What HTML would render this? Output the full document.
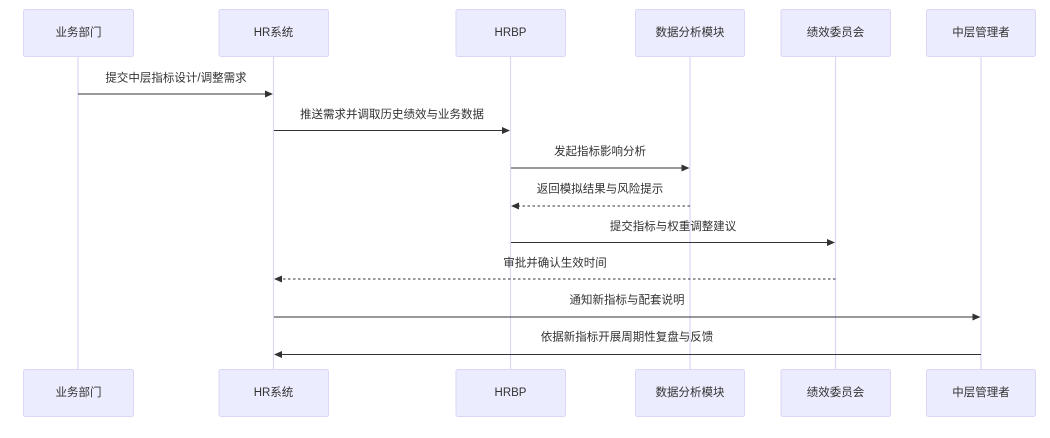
<!DOCTYPE html>
<html>
<head>
<meta charset="utf-8">
<style>
html,body{margin:0;padding:0;background:#fff;}
svg{display:block;}
text{font-family:"Liberation Sans","Noto Sans CJK SC",sans-serif;font-size:11.5px;fill:#333;}
.box{fill:#ECECFF;stroke:#DCD5F6;stroke-width:1;}
.life{stroke:#DDD5F7;stroke-width:1.2;}
.msg{stroke:#333;stroke-width:1.1;fill:none;}
.dash{stroke-dasharray:2.5,2.5;}
</style>
</head>
<body>
<svg width="1050" height="438" viewBox="0 0 1050 438" xmlns="http://www.w3.org/2000/svg">
<defs>
<marker id="ah" markerWidth="8" markerHeight="7" refX="7" refY="3.5" orient="auto" markerUnits="userSpaceOnUse">
<path d="M0,0 L8,3.5 L0,7 z" fill="#333"/>
</marker>
</defs>
<!-- lifelines -->
<line class="life" x1="78" y1="56" x2="78" y2="369"/>
<line class="life" x1="273.5" y1="56" x2="273.5" y2="369"/>
<line class="life" x1="510.5" y1="56" x2="510.5" y2="369"/>
<line class="life" x1="690" y1="56" x2="690" y2="369"/>
<line class="life" x1="835.5" y1="56" x2="835.5" y2="369"/>
<line class="life" x1="981" y1="56" x2="981" y2="369"/>

<!-- top boxes -->
<rect class="box" x="23.5" y="9.5" width="110" height="47" rx="2"/>
<rect class="box" x="219" y="9.5" width="109.5" height="47" rx="2"/>
<rect class="box" x="456" y="9.5" width="109.5" height="47" rx="2"/>
<rect class="box" x="635.5" y="9.5" width="109" height="47" rx="2"/>
<rect class="box" x="781" y="9.5" width="109.5" height="47" rx="2"/>
<rect class="box" x="926.5" y="9.5" width="109" height="47" rx="2"/>
<g text-anchor="middle" dominant-baseline="central">
<text x="78.5" y="33">业务部门</text>
<text x="273.5" y="33">HR系统</text>
<text x="510.5" y="33">HRBP</text>
<text x="690" y="33">数据分析模块</text>
<text x="835.5" y="33">绩效委员会</text>
<text x="981" y="33">中层管理者</text>
</g>

<!-- bottom boxes -->
<rect class="box" x="23.5" y="369.5" width="110" height="47" rx="2"/>
<rect class="box" x="219" y="369.5" width="109.5" height="47" rx="2"/>
<rect class="box" x="456" y="369.5" width="109.5" height="47" rx="2"/>
<rect class="box" x="635.5" y="369.5" width="109" height="47" rx="2"/>
<rect class="box" x="781" y="369.5" width="109.5" height="47" rx="2"/>
<rect class="box" x="926.5" y="369.5" width="109" height="47" rx="2"/>
<g text-anchor="middle" dominant-baseline="central">
<text x="78.5" y="393">业务部门</text>
<text x="273.5" y="393">HR系统</text>
<text x="510.5" y="393">HRBP</text>
<text x="690" y="393">数据分析模块</text>
<text x="835.5" y="393">绩效委员会</text>
<text x="981" y="393">中层管理者</text>
</g>

<!-- messages -->
<line class="msg" x1="78" y1="94" x2="272" y2="94" marker-end="url(#ah)"/>
<line class="msg" x1="274" y1="130.5" x2="509" y2="130.5" marker-end="url(#ah)"/>
<line class="msg" x1="511" y1="168" x2="688.5" y2="168" marker-end="url(#ah)"/>
<line class="msg dash" x1="690" y1="206" x2="512" y2="206" marker-end="url(#ah)"/>
<line class="msg" x1="511" y1="242.5" x2="834" y2="242.5" marker-end="url(#ah)"/>
<line class="msg dash" x1="835.5" y1="279" x2="275" y2="279" marker-end="url(#ah)"/>
<line class="msg" x1="274" y1="317" x2="979.5" y2="317" marker-end="url(#ah)"/>
<line class="msg" x1="981" y1="354.5" x2="275" y2="354.5" marker-end="url(#ah)"/>

<g text-anchor="middle" dominant-baseline="central">
<text x="176" y="78.5">提交中层指标设计/调整需求</text>
<text x="392" y="115">推送需求并调取历史绩效与业务数据</text>
<text x="600" y="152">发起指标影响分析</text>
<text x="600" y="189.5">返回模拟结果与风险提示</text>
<text x="673" y="227">提交指标与权重调整建议</text>
<text x="555" y="263.5">审批并确认生效时间</text>
<text x="627" y="300.5">通知新指标与配套说明</text>
<text x="627" y="337.5">依据新指标开展周期性复盘与反馈</text>
</g>
</svg>
</body>
</html>
